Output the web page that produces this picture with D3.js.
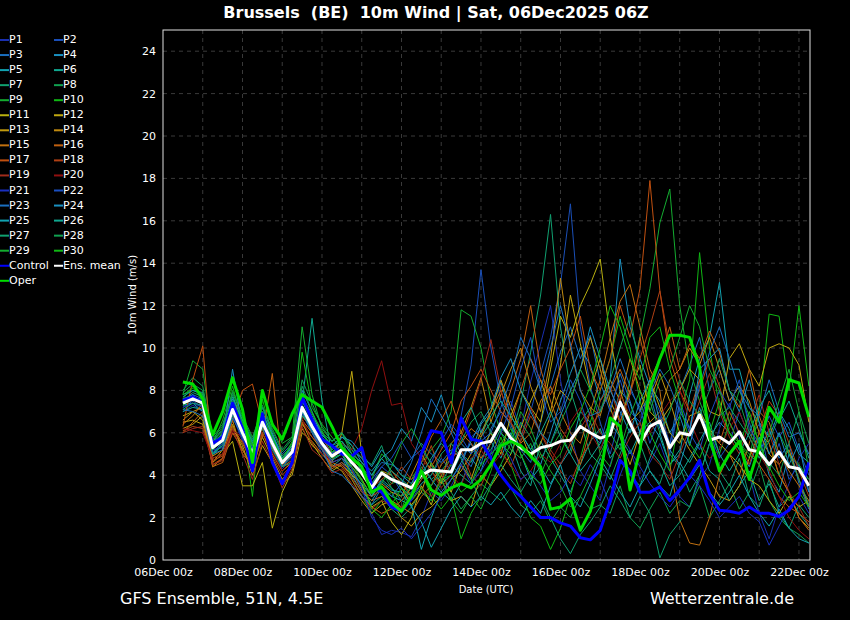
<!DOCTYPE html>
<html>
<head>
<meta charset="utf-8">
<script src="https://cdn.jsdelivr.net/npm/d3@7"></script>
<style>
  body { margin: 0; background: #000; }
  svg { display: block; font-family: "DejaVu Sans", sans-serif; }
  .grid line { stroke: #3a3a3a; stroke-dasharray: 4,4; }
</style>
</head>
<body>
<svg id="chart" width="850" height="620"></svg>
<script>
// 6-hourly steps, 06Dec 12z .. 22Dec 06z
const times = d3.utcHour.every(6).range(new Date(Date.UTC(2025, 11, 6, 12)), new Date(Date.UTC(2025, 11, 22, 7)));
const tickDays = [6, 8, 10, 12, 14, 16, 18, 20, 22];

const control = [7.5,7.7,7.4,5.5,5.8,7.4,6.2,4.2, 6.9,4.6,3.6,4.6,7.7,6.6,5.7,5.4, 5.0,4.9,5.3,3.5,3.2,2.5,2.3,2.9,
  5.0,6.1,6.0,4.6,6.7,5.7,5.6,4.8, 4.0,3.4,3.0,2.5,2.0,2.0,1.75,1.6, 1.05,0.95,1.4,2.8,4.7,4.2,3.2,3.2,
  3.45,2.8,3.3,3.9,4.7,3.1,2.35,2.3, 2.2,2.5,2.2,2.2,2.05,2.35,3.0,4.6];
const ensMean = [7.4,7.6,7.4,5.3,5.65,7.1,6.0,5.0, 6.5,5.5,4.6,5.1,7.2,6.3,5.5,4.9, 5.2,4.6,4.1,3.4,4.1,3.8,3.6,3.4,
  4.0,4.25,4.2,4.15,5.2,5.2,5.5,5.6, 6.45,5.75,5.3,5.0,5.3,5.4,5.6,5.65, 6.3,6.0,5.75,5.9,7.45,6.45,5.5,6.3,
  6.55,5.3,6.0,5.9,6.85,5.65,5.8,5.5, 6.05,5.2,5.1,4.5,5.1,4.4,4.3,3.5];
const oper = [8.4,8.3,7.6,5.9,7.0,8.6,7.1,4.6, 8.0,6.4,5.7,6.9,7.8,7.5,7.2,6.3, 5.3,4.8,4.4,3.2,3.45,2.7,2.3,3.0,
  4.2,3.3,3.05,3.4,3.6,3.4,3.8,4.5, 5.4,5.6,5.4,4.9,4.4,2.4,2.5,2.9, 1.4,2.3,4.0,6.7,6.3,3.3,5.2,8.1,
  9.5,10.6,10.6,10.5,9.1,5.8,4.2,5.0, 5.6,3.8,5.35,7.2,6.5,8.5,8.35,6.75];

const P1 = [7.0,7.3,7.0,5.0,5.4,6.8,5.6,4.6, 6.2,5.2,4.3,4.8,6.9,6.0,5.0,4.4, 4.6,4.0,3.6,2.2,1.2,1.4,1.3,1.1,
  2.0,3.2,2.8,3.5,4.4,5.8,6.2,5.0, 6.8,7.5,6.2,8.4,10.2,12.0,8.5,6.0, 4.2,3.5,2.8,4.5,6.0,5.2,3.8,4.6,
  5.5,4.2,3.0,2.5,3.8,4.5,6.2,7.4, 5.8,4.0,2.2,1.0,2.5,3.6,4.8,5.5];
const P2 = [7.2,7.5,7.2,5.2,5.3,7.0,5.8,4.8, 6.6,5.4,4.5,5.0,7.0,6.4,5.8,5.2, 5.6,5.0,4.2,3.8,4.4,4.0,3.2,2.8,
  3.6,4.0,4.8,4.2,6.8,9.2,13.7,10.0, 7.5,6.2,5.8,7.0,8.8,10.5,13.0,16.8, 11.0,8.2,6.5,5.0,6.8,8.0,7.2,5.5,
  6.8,5.0,7.5,6.2,8.5,6.0,4.8,5.5, 7.0,5.8,6.4,4.2,5.5,3.8,4.5,3.2];
const P3 = [7.6,7.8,7.6,5.6,5.9,7.4,6.4,5.4, 6.9,5.9,5.0,5.5,7.6,6.8,6.0,5.3, 5.5,5.2,4.8,4.0,4.6,4.5,4.2,4.8,
  5.5,5.0,4.6,5.2,4.8,5.5,4.5,6.2, 7.0,6.4,5.2,4.6,6.5,8.2,9.8,11.0, 9.5,10.6,8.4,7.0,8.8,7.5,6.0,7.8,
  6.2,5.4,8.0,9.2,10.5,8.0,9.0,7.5, 8.2,6.5,5.0,6.2,4.8,5.5,3.6,2.4];
const P4 = [7.8,8.0,7.8,5.4,6.0,7.6,6.6,5.6, 7.2,6.0,4.8,5.4,8.0,7.0,5.8,5.0, 5.8,5.4,4.6,4.2,4.8,5.2,6.2,5.6,
  7.2,6.5,7.8,6.2,5.5,5.0,6.4,7.0, 8.4,6.8,6.0,5.2,4.5,6.0,7.5,8.8, 10.0,9.2,7.5,8.5,14.2,11.0,9.5,8.2,
  7.5,6.0,6.8,5.4,7.2,5.8,6.5,6.0, 5.2,4.4,5.8,4.0,3.2,5.0,4.4,3.8];
const P5 = [7.3,7.4,7.0,5.0,5.6,7.2,6.0,4.9, 6.4,5.3,4.4,4.9,6.8,6.2,5.6,4.4, 4.8,4.0,3.2,2.8,3.5,3.0,2.8,2.6,
  0.5,2.0,3.2,2.8,3.6,4.8,4.2,5.6, 4.8,6.0,5.0,3.8,4.4,3.6,4.5,5.2, 7.0,6.5,5.2,6.2,8.0,7.4,6.0,6.5,
  5.8,4.5,5.0,7.8,9.5,10.5,13.1,9.0, 9.0,7.2,6.5,5.8,7.0,6.2,5.0,4.6];
const P6 = [7.0,7.2,7.1,4.9,5.5,6.9,5.9,5.2, 6.3,5.6,4.7,5.2,7.4,11.4,7.5,5.0, 5.4,4.4,3.8,3.0,3.8,3.4,2.8,3.2,
  3.8,4.5,3.6,4.0,5.0,4.6,5.8,6.5, 6.0,5.5,4.2,3.5,5.6,4.8,4.0,3.2, 4.5,5.6,6.2,4.8,5.5,4.0,3.5,4.8,
  6.0,4.5,5.2,4.6,5.5,4.2,3.8,2.8, 3.5,4.2,2.8,3.6,2.5,3.0,2.2,1.6];
const P7 = [7.5,7.9,7.7,5.4,5.8,7.3,6.2,5.1, 6.8,5.7,4.9,5.4,7.5,6.5,5.4,4.8, 5.0,4.3,3.5,2.6,3.0,2.4,2.0,2.5,
  3.2,2.8,3.6,4.5,4.0,3.6,4.8,5.2, 6.2,5.8,7.4,9.8,12.5,16.3,11.0,8.0, 6.5,5.0,4.5,3.8,5.0,6.2,5.5,4.2,
  3.6,5.0,4.4,3.2,4.0,5.5,4.2,3.5, 4.8,3.0,2.5,3.8,2.2,1.5,2.6,2.0];
const P8 = [8.0,8.6,8.2,5.8,6.4,7.8,6.4,5.4, 7.2,6.2,5.2,5.8,8.2,7.0,6.0,5.4, 5.6,4.6,4.0,3.5,4.2,3.6,3.8,3.0,
  4.4,3.8,4.2,3.2,2.4,3.0,3.6,3.2, 2.8,3.4,2.6,2.2,2.8,1.8,2.5,2.0, 3.0,2.4,2.6,2.2,3.5,2.0,1.5,2.4,
  3.2,2.2,2.8,2.5,3.5,2.0,2.8,3.6, 2.4,3.2,4.5,2.8,2.0,1.5,1.2,0.8];
const P9 = [7.8,9.4,9.0,5.6,6.2,8.0,6.8,5.8, 7.0,6.5,5.5,5.8,11.0,7.8,6.2,5.6, 6.0,5.2,4.4,3.8,5.0,4.6,4.0,3.8,
  4.6,5.2,5.8,7.0,11.8,11.5,10.0,7.5, 6.0,5.2,4.8,5.5,4.0,5.2,6.0,5.0, 6.5,7.2,5.0,4.4,6.0,8.5,10.5,12.8,
  15.9,17.5,12.0,9.0,7.5,6.2,5.0,6.5, 8.0,6.8,5.5,4.2,6.0,5.0,4.5,3.8];
const P10 = [7.6,8.2,7.8,5.5,6.6,8.2,6.5,3.0, 7.6,5.8,4.6,5.5,9.8,7.2,6.4,5.8, 5.2,3.8,3.0,2.2,2.8,3.2,2.4,3.6,
  4.2,3.0,2.4,3.0,1.0,2.2,3.0,4.2, 5.8,4.5,3.2,2.0,1.6,0.5,1.5,3.0, 4.8,6.5,8.0,9.5,11.5,10.0,7.5,6.0,
  5.0,4.2,6.8,8.5,14.5,10.0,7.2,6.0, 5.5,4.8,7.0,11.6,11.5,8.0,12.0,8.2];
const P11 = [6.8,7.0,6.6,4.8,5.0,5.6,3.5,3.5, 4.6,1.5,3.2,4.2,6.5,5.5,4.8,4.2, 4.5,4.0,3.6,2.5,2.8,1.8,1.2,2.0,
  3.5,2.6,4.0,3.2,4.5,3.8,5.2,6.0, 5.0,6.8,8.0,7.2,6.5,9.0,11.5,10.5, 12.0,13.0,14.2,10.5,8.0,6.5,7.0,8.5,
  7.2,6.0,5.5,6.8,7.0,6.2,5.5,5.0, 4.5,3.8,3.5,2.8,2.2,3.0,2.5,2.8];
const P12 = [6.5,6.6,6.4,4.6,5.2,6.4,5.2,4.4, 5.8,4.8,3.8,4.4,6.2,5.4,5.0,4.6, 6.0,8.9,5.0,3.6,4.2,4.0,3.4,2.6,
  3.2,4.6,3.8,2.8,3.0,2.5,4.0,3.5, 4.2,5.0,6.2,7.5,8.5,7.0,9.2,12.5, 10.2,8.0,9.5,7.5,6.5,8.0,9.2,7.0,
  6.5,7.2,8.0,9.0,8.5,7.0,6.8,9.5, 10.2,9.0,8.2,10.0,10.2,10.0,9.2,6.5];
const P13 = [6.2,6.4,6.8,4.4,4.8,6.2,5.4,4.0, 5.4,4.6,3.6,4.0,6.0,5.6,5.0,4.5, 4.2,3.5,2.8,2.2,2.6,2.8,2.0,1.6,
  2.2,2.5,3.0,3.8,4.2,5.0,6.0,7.0, 8.5,7.2,6.0,4.8,5.5,6.8,8.0,7.5, 9.0,10.5,9.0,7.2,5.8,4.5,6.0,7.5,
  8.8,7.5,6.0,5.2,4.5,3.8,3.0,2.8, 3.5,4.8,6.0,5.5,4.0,3.2,2.0,1.5];
const P14 = [6.6,7.0,7.2,4.9,5.2,6.6,5.0,4.5, 6.0,5.0,4.2,4.6,6.4,5.8,5.2,4.6, 4.8,4.4,3.8,3.0,3.6,3.2,3.0,4.0,
  5.0,4.2,3.6,5.5,6.0,7.2,8.6,6.5, 7.8,9.0,10.0,8.2,7.0,9.5,13.3,10.0, 8.0,7.2,6.8,8.5,7.5,9.5,8.0,6.5,
  7.0,8.5,9.0,10.0,9.2,10.5,9.0,7.5, 8.2,7.5,6.0,5.0,4.5,5.2,3.8,2.5];
const P15 = [6.4,6.8,7.4,4.6,5.0,6.3,5.5,4.6, 6.2,5.3,4.5,4.9,6.6,6.0,5.3,4.3, 4.6,4.2,3.3,2.8,3.0,2.8,2.5,2.2,
  3.0,3.5,4.5,5.0,5.5,6.2,5.8,7.0, 8.0,6.5,5.5,6.0,7.5,8.2,7.0,6.0, 5.5,7.0,8.5,10.5,12.2,13.0,11.0,9.0,
  8.0,4.5,1.9,0.8,0.7,2.0,4.0,5.0, 4.0,5.5,7.0,6.5,5.0,4.2,3.5,2.8];
const P16 = [6.0,6.5,7.0,4.4,4.6,6.0,5.2,4.3, 5.8,8.8,4.4,4.7,6.8,6.2,5.5,4.6, 4.4,3.8,3.0,2.5,2.2,2.4,2.8,3.4,
  4.6,5.8,6.6,7.5,6.0,5.5,4.8,5.5, 6.5,8.0,9.5,12.0,9.0,7.5,6.2,5.5, 4.5,6.2,7.0,8.0,9.0,7.8,10.5,8.5,
  9.5,11.0,9.0,10.2,9.5,10.8,9.8,8.0, 7.2,9.0,6.8,5.5,4.0,3.2,2.0,1.4];
const P17 = [6.3,8.5,10.1,4.5,4.8,6.6,8.0,8.3, 6.4,5.6,4.8,5.2,7.8,6.6,5.8,5.0, 5.2,4.8,4.0,3.4,3.8,4.2,3.6,3.0,
  3.8,4.4,5.2,6.0,7.5,8.2,9.0,8.0, 7.0,6.5,8.0,9.5,8.5,7.8,9.0,10.0, 11.5,9.0,8.0,9.5,12.0,10.5,12.8,17.9,
  12.7,9.5,8.0,7.0,8.5,6.0,5.5,7.0, 6.0,5.2,4.5,3.8,3.0,2.5,2.2,1.8];
const P18 = [6.1,6.3,6.2,4.7,4.9,6.0,5.6,4.7, 6.0,4.9,4.0,4.5,6.5,5.8,5.4,4.4, 4.5,3.9,3.2,3.0,3.3,3.6,4.4,3.8,
  4.2,5.4,4.0,4.8,5.2,4.0,3.5,4.6, 5.2,4.4,5.6,6.8,6.0,5.0,4.2,3.6, 4.8,5.5,7.5,8.2,6.5,7.8,9.5,11.0,
  12.7,10.0,8.5,7.0,8.0,9.5,8.2,6.5, 5.5,4.5,6.0,7.5,6.8,5.5,4.2,3.0];
const P19 = [6.0,6.2,6.3,4.5,4.7,6.2,5.0,3.8, 5.6,4.6,3.4,4.3,6.3,5.2,4.8,4.1, 4.3,3.6,3.0,2.4,2.8,2.6,2.5,2.8,
  3.4,3.0,3.8,4.6,5.8,7.0,8.5,10.4, 8.0,6.5,5.8,7.2,6.0,5.2,4.5,5.5, 6.2,7.0,6.0,5.5,4.8,5.8,6.5,5.0,
  4.5,3.8,5.0,6.2,7.5,8.8,7.0,5.8, 5.0,6.5,7.8,6.0,4.5,3.2,2.5,1.6];
const P20 = [6.2,6.1,6.0,4.8,5.0,6.1,5.8,4.6, 6.2,5.1,4.2,4.7,6.7,5.5,5.0,4.7, 5.5,5.2,6.2,8.0,9.4,7.3,7.4,5.5,
  4.8,4.2,3.4,4.0,3.5,4.8,5.2,4.4, 5.0,4.5,3.8,4.2,5.0,4.6,5.5,6.5, 7.2,6.0,5.2,6.5,7.8,6.8,5.5,6.0,
  6.8,7.5,8.0,6.6,5.5,4.8,5.2,6.2, 7.0,5.8,5.0,4.2,3.0,2.0,1.4,1.0];
const P21 = [7.2,7.4,7.2,5.1,5.5,6.9,5.7,4.8, 6.4,5.4,4.6,5.0,7.1,6.1,5.3,4.6, 4.8,4.3,3.4,2.0,1.4,1.2,1.5,1.0,
  1.6,2.2,3.0,3.8,4.5,3.6,4.2,5.0, 5.5,4.8,3.8,4.2,3.5,2.8,3.2,4.0, 3.5,4.5,3.8,2.6,4.0,5.2,4.4,3.6,
  3.0,2.5,3.2,4.0,3.5,2.8,2.0,2.5, 3.0,2.2,1.8,0.7,1.6,2.5,3.0,2.2];
const P22 = [7.6,7.7,7.5,5.4,5.9,7.2,6.1,5.2, 6.7,5.6,4.7,5.2,7.3,6.4,5.6,5.0, 5.4,4.7,4.4,3.6,4.4,4.8,5.6,4.8,
  5.2,4.6,5.6,6.4,5.8,5.0,5.5,4.8, 6.0,7.2,9.0,10.5,8.0,6.5,7.0,8.5, 7.5,6.0,5.5,7.2,8.5,7.0,6.5,8.0,
  7.0,5.5,7.2,6.0,5.2,6.8,8.0,7.2, 8.5,6.2,5.5,6.8,5.8,6.5,5.2,4.0];
const P23 = [7.1,7.0,6.8,5.0,5.2,6.7,5.8,4.9, 6.6,5.5,4.4,5.0,7.0,6.0,5.2,4.2, 4.0,3.5,3.0,2.6,3.4,3.0,3.6,4.6,
  6.0,7.6,6.8,6.0,5.0,4.4,5.6,6.0, 7.2,8.5,10.5,9.5,8.0,10.0,12.0,10.2, 8.0,6.8,7.0,8.0,9.5,8.2,7.0,7.8,
  9.0,8.2,7.0,6.2,8.2,9.8,11.0,9.5, 8.0,7.2,6.8,8.5,7.0,5.8,6.0,5.0];
const P24 = [7.4,7.8,7.3,5.2,5.7,9.0,6.2,5.3, 6.3,5.8,4.8,5.3,7.5,6.7,5.9,5.4, 5.8,5.6,5.0,4.4,5.2,4.6,4.0,3.6,
  4.6,3.8,3.2,3.8,4.6,5.6,6.5,7.2, 8.6,9.5,8.0,7.0,6.0,5.5,6.8,8.0, 9.0,11.0,9.5,8.0,7.0,6.0,7.5,8.5,
  6.5,5.2,4.5,6.0,9.0,9.5,10.0,8.0, 7.0,8.5,6.5,5.0,6.0,4.5,5.5,3.2];
const P25 = [7.5,7.6,7.6,5.3,5.9,7.3,6.3,5.0, 6.5,5.7,4.8,5.2,7.0,6.1,5.4,4.7, 5.0,4.1,3.6,3.0,3.7,3.3,3.2,2.5,
  1.8,0.6,1.5,2.4,3.0,2.5,3.0,2.6, 3.2,2.5,2.0,2.8,2.2,3.5,4.5,3.0, 2.5,3.6,4.8,4.0,3.2,2.5,3.5,4.2,
  3.5,3.0,4.6,3.8,4.5,3.2,2.6,3.2, 4.0,3.0,2.2,1.6,2.4,1.5,1.0,0.8];
const P26 = [7.7,8.0,7.9,5.6,6.1,7.7,6.6,5.5, 7.0,5.9,4.8,5.4,7.6,6.6,5.8,5.2, 5.6,5.0,4.6,4.0,4.8,4.2,3.8,3.4,
  4.0,4.8,5.5,5.0,6.5,7.2,6.0,6.8, 7.5,6.8,6.0,5.2,6.0,7.0,5.8,5.0, 4.2,4.8,5.5,6.5,5.8,5.0,6.0,5.2,
  4.6,3.5,4.0,4.8,5.6,6.5,5.0,4.2, 5.0,6.0,7.2,8.0,6.6,7.5,6.2,4.8];
const P27 = [7.1,7.4,7.3,5.0,5.4,6.8,6.4,5.6, 6.2,5.2,4.4,4.6,6.8,6.4,6.0,5.6, 6.0,5.4,4.8,4.5,5.4,4.0,3.4,3.0,
  3.6,4.0,5.0,5.5,4.8,3.8,2.8,3.6, 4.5,3.8,3.2,4.0,3.0,2.0,1.0,0.3, 1.2,1.8,2.5,3.5,2.8,2.0,3.0,2.2,
  0.1,1.2,1.8,2.5,4.0,5.5,6.8,7.2, 6.5,5.8,4.8,5.6,6.8,5.0,3.8,2.6];
const P28 = [7.9,8.3,8.0,5.7,6.3,7.9,6.7,5.7, 7.3,6.1,5.1,5.7,8.5,7.4,6.3,5.6, 6.0,5.0,4.2,3.6,4.2,3.4,3.0,3.4,
  4.0,3.5,4.2,4.8,5.6,6.5,7.0,6.0, 5.5,5.0,6.5,5.8,4.8,5.5,6.5,7.5, 9.0,8.0,7.0,8.5,10.0,11.5,9.0,7.5,
  6.0,7.0,8.5,7.5,6.8,8.0,9.5,8.0, 7.5,6.0,5.2,4.6,4.0,5.5,7.0,5.5];
const P29 = [7.3,7.6,7.5,5.2,5.6,7.0,5.9,4.4, 6.4,5.5,4.6,5.2,7.1,6.2,5.5,4.8, 5.0,4.4,3.7,3.1,3.6,4.4,5.5,6.2,
  5.4,4.5,3.8,2.8,2.2,3.0,2.4,3.5, 4.5,5.5,7.0,6.2,5.0,4.2,3.5,2.5, 3.0,4.0,5.0,6.0,5.2,6.8,8.0,7.0,
  8.5,9.0,10.5,12.0,11.0,9.0,8.0,6.5, 5.5,5.0,4.5,6.0,7.5,9.0,7.0,4.2];
const P30 = [7.8,8.1,7.7,5.5,6.0,7.5,6.5,5.4, 6.8,5.8,4.7,5.6,7.7,6.9,6.1,5.1, 5.4,4.6,3.8,2.4,2.0,2.6,3.4,2.8,
  3.4,2.8,3.8,4.0,3.2,3.6,4.5,5.0, 5.5,6.2,5.0,4.0,3.6,4.5,5.0,6.2, 7.0,8.2,10.0,12.0,11.0,9.5,8.5,10.5,
  11.0,9.0,7.5,5.5,4.8,6.0,7.5,6.0, 5.2,7.0,5.5,4.4,3.5,2.8,3.2,2.5];

const members = [P1, P2, P3, P4, P5, P6, P7, P8, P9, P10, P11, P12, P13, P14, P15,
  P16, P17, P18, P19, P20, P21, P22, P23, P24, P25, P26, P27, P28, P29, P30];
const memberColors = ["#1a2fb0", "#1a4fb8", "#1a6fc0", "#1a90c0", "#12a2b0", "#10a890", "#10a070", "#10a050", "#14ac30", "#10b814",
  "#b8b010", "#c0a810", "#c09a10", "#c08a10", "#c07010", "#c06010", "#c05010", "#b04014", "#a02c1c", "#901010",
  "#1a2fc0", "#1a4fc0", "#1a6fc0", "#1a90c0", "#12a2b0", "#10a890", "#10a070", "#10a050", "#14ac30", "#10b814"];
const yTicks = d3.range(0, 25, 2);

const svg = d3.select("#chart");
const plotLeft = 163, plotRight = 810, plotTop = 30, plotBottom = 560;

const x = d3.scaleUtc()
  .domain([new Date(Date.UTC(2025, 11, 6, 0)), new Date(Date.UTC(2025, 11, 22, 6, 40))])
  .range([plotLeft, plotRight]);
const y = d3.scaleLinear().domain([0, 25]).range([plotBottom, plotTop]);

// grid
const grid = svg.append("g").attr("class", "grid");
grid.selectAll(".h").data(yTicks.filter(d => d > 0)).join("line")
  .attr("x1", plotLeft).attr("x2", plotRight)
  .attr("y1", d => y(d)).attr("y2", d => y(d));
grid.selectAll(".v").data(d3.utcDay.range(new Date(Date.UTC(2025, 11, 7)), new Date(Date.UTC(2025, 11, 23)))).join("line")
  .attr("x1", d => x(d)).attr("x2", d => x(d))
  .attr("y1", plotTop).attr("y2", plotBottom);

const line = d3.line()
  .x((d, i) => x(times[i]))
  .y(d => y(d));

const plot = svg.append("g");
members.forEach((m, k) => {
  plot.append("path")
    .attr("d", line(m))
    .attr("fill", "none")
    .attr("stroke", memberColors[k])
    .attr("stroke-width", 1);
});
[[control, "#0000ff"], [ensMean, "#ffffff"], [oper, "#00dd00"]].forEach(([s, c]) => {
  plot.append("path")
    .attr("d", line(s))
    .attr("fill", "none")
    .attr("stroke", c)
    .attr("stroke-width", 3)
    .attr("stroke-linejoin", "round");
});

// frame
svg.append("rect")
  .attr("x", plotLeft).attr("y", plotTop)
  .attr("width", plotRight - plotLeft).attr("height", plotBottom - plotTop)
  .attr("fill", "none").attr("stroke", "#e0e0e0").attr("stroke-width", 1);

// axes
const yAxis = svg.append("g")
  .attr("transform", `translate(${plotLeft},0)`)
  .call(d3.axisLeft(y).tickValues(yTicks).tickSize(0).tickPadding(7));
const xAxis = svg.append("g")
  .attr("transform", `translate(0,${plotBottom})`)
  .call(d3.axisBottom(x)
    .tickValues(tickDays.map(d => new Date(Date.UTC(2025, 11, d))))
    .tickFormat(d3.utcFormat("%d%b %Hz"))
    .tickSize(0).tickPadding(8));
[yAxis, xAxis].forEach(a => {
  a.select(".domain").remove();
  a.selectAll("text").attr("fill", "#fff").attr("font-size", 11).attr("font-family", "DejaVu Sans");
});

svg.append("text")
  .attr("x", 133).attr("y", 295)
  .attr("transform", "rotate(-90,133,295)")
  .attr("text-anchor", "middle").attr("dominant-baseline", "middle")
  .attr("fill", "#fff").attr("font-size", 10)
  .text("10m Wind (m/s)");
svg.append("text")
  .attr("x", 486).attr("y", 593)
  .attr("text-anchor", "middle")
  .attr("fill", "#fff").attr("font-size", 10)
  .text("Date (UTC)");

svg.append("text")
  .attr("x", 436).attr("y", 18)
  .attr("text-anchor", "middle")
  .attr("fill", "#fff").attr("font-size", 16).attr("font-weight", "bold")
  .style("white-space", "pre")
  .text("Brussels  (BE)  10m Wind | Sat, 06Dec2025 06Z");

svg.append("text")
  .attr("x", 120).attr("y", 604)
  .attr("fill", "#fff").attr("font-size", 16)
  .text("GFS Ensemble, 51N, 4.5E");
svg.append("text")
  .attr("x", 794).attr("y", 604)
  .attr("text-anchor", "end")
  .attr("fill", "#fff").attr("font-size", 16)
  .text("Wetterzentrale.de");

// legend
const legendItems = members.map((m, k) => ({ name: "P" + (k + 1), color: memberColors[k] }))
  .concat([{ name: "Control", color: "#0000ff" }, { name: "Ens. mean", color: "#ffffff" }, { name: "Oper", color: "#00dd00" }]);
const legend = svg.append("g");
legendItems.forEach((d, i) => {
  const col = i % 2, row = Math.floor(i / 2);
  const lx = col === 0 ? 0 : 54;
  const ly = 40 + row * 15.05;
  legend.append("line")
    .attr("x1", lx).attr("x2", lx + 9)
    .attr("y1", ly).attr("y2", ly)
    .attr("stroke", d.color).attr("stroke-width", 2);
  legend.append("text")
    .attr("x", lx + 9).attr("y", ly)
    .attr("dominant-baseline", "middle")
    .attr("fill", "#fff").attr("font-size", 11)
    .text(d.name);
});
</script>
</body>
</html>
